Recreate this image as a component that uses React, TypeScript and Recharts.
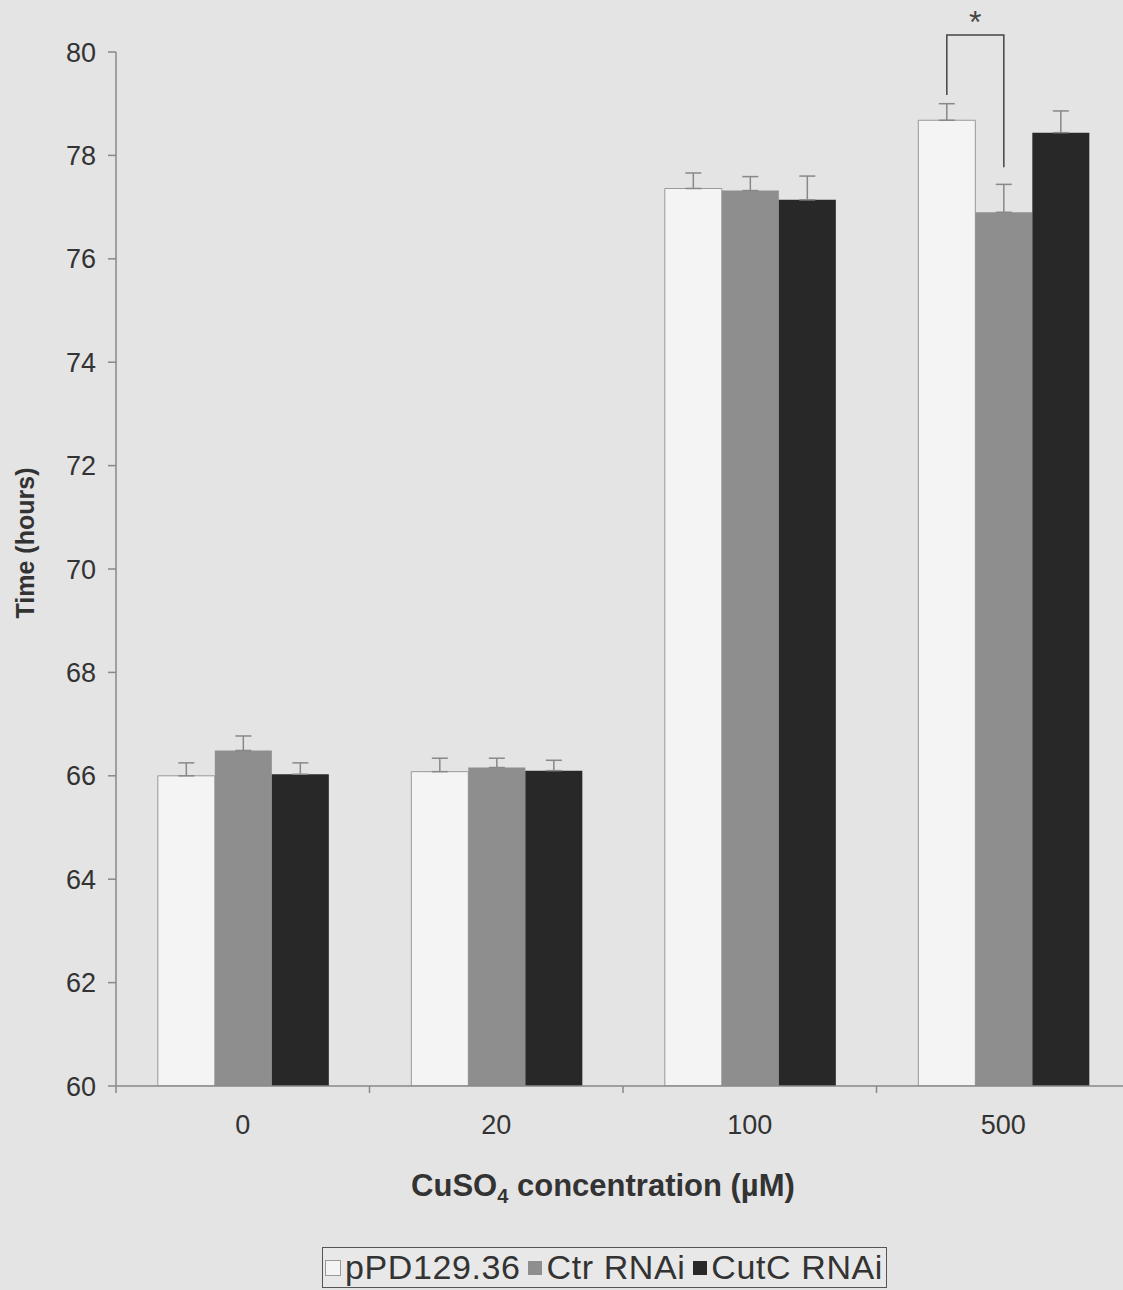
import React from 'react';
import { BarChart, Bar, XAxis, YAxis, ErrorBar, LabelList, Label } from 'recharts';

const categories = ['0', '20', '100', '500'];
const pPD = [66.0, 66.08, 77.36, 78.68];
const ctr = [66.49, 66.16, 77.32, 76.9];
const cutc = [66.03, 66.1, 77.14, 78.44];
const pPDErr = [0.25, 0.26, 0.3, 0.32];
const ctrErr = [0.28, 0.18, 0.27, 0.54];
const cutcErr = [0.22, 0.2, 0.46, 0.42];
const yTicks = [60, 62, 64, 66, 68, 70, 72, 74, 76, 78, 80];
const seriesNames = ['pPD129.36', 'Ctr RNAi', 'CutC RNAi'];
const seriesColors = ['#f4f4f4', '#8e8e8e', '#282828'];
// significance bracket (values in hours) at the 500 µM group
const bracketIndex = 3;
const bracketTop = 80.33;
const bracketLeftBottom = 79.17;
const bracketRightBottom = 77.77;
const starValue = 80.62;

const data = categories.map((c, i) => ({
  cat: c,
  pPD: pPD[i],
  ctr: ctr[i],
  cutc: cutc[i],
  pPDErr: [0, pPDErr[i]],
  ctrErr: [0, ctrErr[i]],
  cutcErr: [0, cutcErr[i]],
}));

const FONT = 'Liberation Sans, Arial, sans-serif';

const Bracket = (props: any) => {
  const { x, y, width, height, value, index } = props;
  if (index !== bracketIndex) return null;
  const scale = height / (value - 60);
  const vy = (v: number) => y - (v - value) * scale;
  const lx = x + width / 2;
  const rx = x + width * 1.5;
  return (
    <g>
      <path
        d={`M${lx},${vy(bracketLeftBottom)} L${lx},${vy(bracketTop)} L${rx},${vy(bracketTop)} L${rx},${vy(bracketRightBottom)}`}
        fill="none"
        stroke="#444"
        strokeWidth={1.5}
      />
      <text x={(lx + rx) / 2} y={vy(starValue) + 13} textAnchor="middle" fontFamily={FONT} fontSize={32} fill="#444">
        *
      </text>
    </g>
  );
};

// category tick: label at band centre, tick mark at band boundary (left edge of band)
const CatTick = (props: any) => {
  const { x, y, payload } = props;
  const half = payload && payload.offset ? payload.offset : 126.75;
  const axisY = y - 29;
  return (
    <g>
      <line x1={x - half} x2={x - half} y1={axisY} y2={axisY + 7} stroke="#888" strokeWidth={1.5} />
      <text x={x} y={y} dy="0.71em" textAnchor="middle" fontFamily={FONT} fontSize={27} fill="#333">
        {payload.value}
      </text>
    </g>
  );
};

const XTitle = () => (
  <text x={603} y={1196} textAnchor="middle" fontFamily={FONT} fontWeight="bold" fontSize={31} fill="#333">
    CuSO
    <tspan fontSize={20} dy={7}>4</tspan>
    <tspan dy={-7}> concentration (µM)</tspan>
  </text>
);

const YTitle = () => (
  <text
    x={25}
    y={543}
    transform="rotate(-90, 25, 543)"
    textAnchor="middle"
    dominantBaseline="central"
    fontFamily={FONT}
    fontWeight="bold"
    fontSize={25}
    fill="#333"
  >
    Time (hours)
  </text>
);

const LegendBox = () => (
  <div
    style={{
      position: 'absolute',
      left: 322,
      top: 1247,
      width: 565,
      height: 41,
      border: '1.5px solid #555',
      background: '#e8e8e8',
      display: 'flex',
      alignItems: 'center',
      justifyContent: 'space-between',
      boxSizing: 'border-box',
      padding: '0 3px 0 2px',
      fontFamily: FONT,
      fontSize: 34,
      letterSpacing: 0.6,
      color: '#333',
      whiteSpace: 'nowrap',
    }}
  >
    {seriesNames.map((n, i) => (
      <span key={n} style={{ display: 'inline-flex', alignItems: 'center' }}>
        <span
          style={{
            display: 'inline-block',
            width: 14,
            height: 14,
            background: seriesColors[i],
            border: i === 0 ? '1px solid #999' : 'none',
            marginRight: 4,
          }}
        />
        {n}
      </span>
    ))}
  </div>
);

export default function App() {
  return (
    <div
      style={{
        position: 'absolute',
        left: 0,
        top: 0,
        width: 1123,
        height: 1290,
        overflow: 'hidden',
        background: '#e4e4e4',
      }}
    >
      <BarChart
        width={1160}
        height={1290}
        data={data}
        margin={{ top: 52, right: 30, bottom: 164, left: 0 }}
        barCategoryGap="16.5%"
        barGap={0}
      >
        <XAxis
          dataKey="cat"
          height={40}
          tickLine={false}
          tickSize={0}
          tickMargin={29}
          axisLine={{ stroke: '#888', strokeWidth: 1.5 }}
          tick={CatTick}
          interval={0}
        >
          <Label content={XTitle} />
        </XAxis>
        <YAxis
          width={116}
          domain={[60, 80]}
          ticks={yTicks}
          allowDataOverflow
          tickSize={8}
          tickMargin={12}
          axisLine={{ stroke: '#888', strokeWidth: 1.5 }}
          tickLine={{ stroke: '#888', strokeWidth: 1.5 }}
          tick={{ fontFamily: FONT, fontSize: 27, fill: '#333' }}
        >
          <Label content={YTitle} />
        </YAxis>
        <Bar dataKey="pPD" name={seriesNames[0]} fill={seriesColors[0]} stroke="#999" strokeWidth={1} isAnimationActive={false}>
          <ErrorBar dataKey="pPDErr" direction="y" width={8} stroke="#888" strokeWidth={1.5} />
          <LabelList dataKey="pPD" content={Bracket} />
        </Bar>
        <Bar dataKey="ctr" name={seriesNames[1]} fill={seriesColors[1]} isAnimationActive={false}>
          <ErrorBar dataKey="ctrErr" direction="y" width={8} stroke="#888" strokeWidth={1.5} />
        </Bar>
        <Bar dataKey="cutc" name={seriesNames[2]} fill={seriesColors[2]} isAnimationActive={false}>
          <ErrorBar dataKey="cutcErr" direction="y" width={8} stroke="#888" strokeWidth={1.5} />
        </Bar>
      </BarChart>
      <LegendBox />
    </div>
  );
}
